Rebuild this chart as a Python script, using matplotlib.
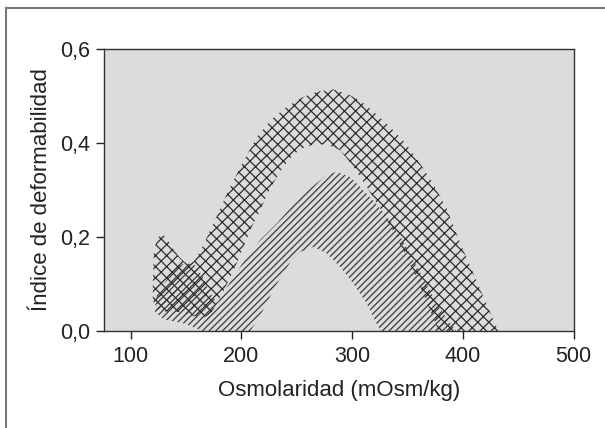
import numpy as np
import matplotlib
matplotlib.use("Agg")
import matplotlib.pyplot as plt
from matplotlib.lines import Line2D

plt.rcParams['font.family'] = ['Liberation Sans', 'DejaVu Sans']
plt.rcParams['hatch.linewidth'] = 0.9

# cross-hatched band (upper curve), edges
cross_upper_x = [120, 121, 124, 128, 132, 137, 143, 148, 152, 157, 163, 172, 180, 187, 196,
                 205, 214, 227, 241, 255, 268, 283, 295, 307, 320, 334, 348, 361, 372, 385,
                 397, 409, 418, 426, 432]
cross_upper_y = [0.10, 0.17, 0.197, 0.206, 0.20, 0.18, 0.16, 0.148, 0.142, 0.148, 0.17, 0.215,
                 0.255, 0.293, 0.335, 0.375, 0.413, 0.45, 0.477, 0.497, 0.509, 0.514, 0.505,
                 0.491, 0.465, 0.435, 0.40, 0.357, 0.318, 0.262, 0.19, 0.125, 0.075, 0.032, 0.0]
cross_lower_x = [120, 122, 127, 135, 145, 155, 165, 172, 178, 185, 195, 202, 210, 217, 223,
                 230, 238, 245, 253, 265, 277, 289, 301, 313, 325, 337, 349, 361, 372, 378]
cross_lower_y = [0.07, 0.048, 0.04, 0.042, 0.04, 0.033, 0.028, 0.035, 0.06, 0.09, 0.14, 0.18,
                 0.225, 0.257, 0.29, 0.32, 0.35, 0.37, 0.387, 0.397, 0.397, 0.385, 0.35, 0.307,
                 0.262, 0.213, 0.158, 0.097, 0.035, 0.0]

# single-hatched band (lower curve)
hatch_upper_x = [122, 124, 130, 140, 150, 158, 165, 172, 178, 186, 201, 217, 232, 253, 277,
                 286, 298, 307, 320, 334, 345, 355, 366, 376, 386, 394]
hatch_upper_y = [0.05, 0.08, 0.10, 0.135, 0.145, 0.14, 0.115, 0.08, 0.06, 0.09, 0.144, 0.194,
                 0.229, 0.286, 0.332, 0.339, 0.328, 0.307, 0.275, 0.235, 0.195, 0.151, 0.105,
                 0.06, 0.025, 0.0]
hatch_lower_x = [122, 130, 140, 150, 160, 165, 208, 215, 223, 230, 238, 245, 253, 265, 277,
                 289, 301, 313, 322, 326, 394]
hatch_lower_y = [0.04, 0.025, 0.02, 0.015, 0.005, 0.0, 0.0, 0.025, 0.06, 0.093, 0.123, 0.15,
                 0.168, 0.179, 0.165, 0.137, 0.101, 0.059, 0.016, 0.0, 0.0]

x_ticks = [100, 200, 300, 400, 500]
y_ticks = [0.0, 0.2, 0.4, 0.6]
y_tick_labels = ['0,0', '0,2', '0,4', '0,6']

fig = plt.figure(figsize=(6.05, 4.28), dpi=100)
ax = fig.add_axes([0.172, 0.2266, 0.7763, 0.6589])
ax.set_facecolor('#dbdcde')

ax.fill(np.concatenate([cross_upper_x, cross_lower_x[::-1]]),
        np.concatenate([cross_upper_y, cross_lower_y[::-1]]),
        facecolor='none', edgecolor='#2e2e2e', linewidth=0, hatch='xxx')
ax.fill(np.concatenate([hatch_upper_x, hatch_lower_x[::-1]]),
        np.concatenate([hatch_upper_y, hatch_lower_y[::-1]]),
        facecolor='none', edgecolor='#3a3a3a', linewidth=0, hatch='/////')

ax.set_xlim(76, 500)
ax.set_ylim(0, 0.6)
ax.set_xticks(x_ticks)
ax.set_yticks(y_ticks)
ax.set_yticklabels(y_tick_labels)
ax.tick_params(direction='out', length=6, width=1, colors='#222222', labelsize=15.5)
ax.tick_params(axis='x', pad=5)
ax.tick_params(axis='y', pad=4)
for s in ax.spines.values():
    s.set_color('#333333')
    s.set_linewidth(1.0)

ax.set_xlabel('Osmolaridad (mOsm/kg)', fontsize=16, color='#222222', labelpad=9)
ax.set_ylabel('Índice de deformabilidad', fontsize=16, color='#222222', labelpad=6)

# outer frame (top and left edges visible)
fig.add_artist(Line2D([5.5 / 605, 5.5 / 605], [0, 1 - 8 / 428], transform=fig.transFigure,
                      color='#777777', lw=1.5))
fig.add_artist(Line2D([5.5 / 605, 1], [1 - 8 / 428, 1 - 8 / 428], transform=fig.transFigure,
                      color='#777777', lw=1.5))

fig.savefig('out.png', dpi=100)
